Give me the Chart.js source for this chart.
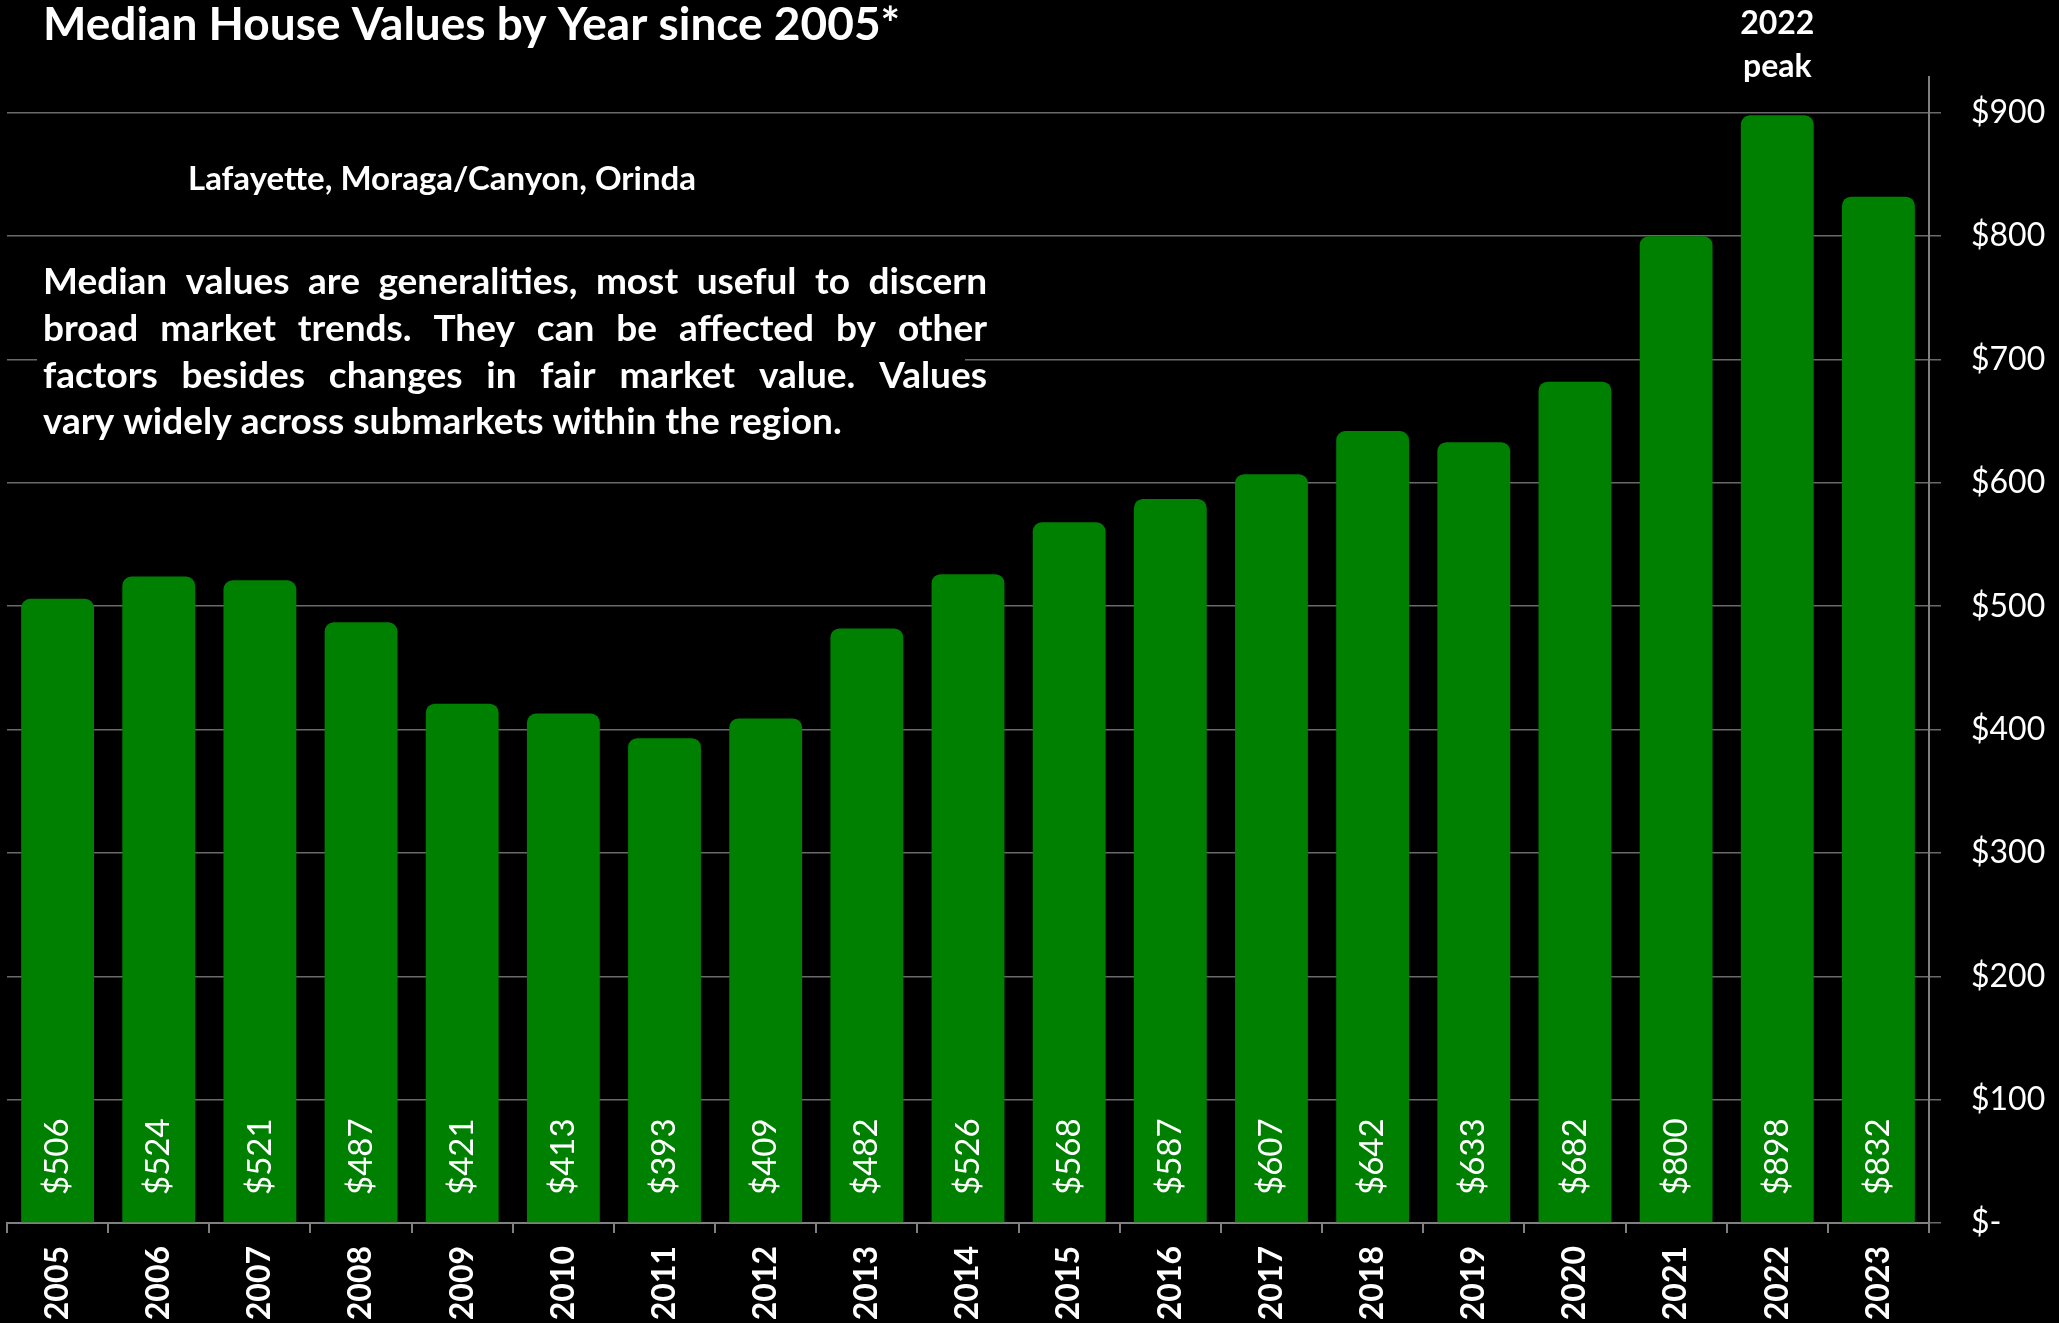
<!DOCTYPE html>
<html>
<head>
<meta charset="utf-8">
<script src="https://cdn.jsdelivr.net/npm/chart.js@4.4.1/dist/chart.umd.min.js"></script>
<style>
  html, body { margin: 0; padding: 0; background: #000; }
  canvas { display: block; }
</style>
</head>
<body>
<canvas id="chart__values" width="2059" height="1323"></canvas>
<script>
const years = ['2005', '2006', '2007', '2008', '2009', '2010', '2011', '2012', '2013', '2014',
    '2015', '2016', '2017', '2018', '2019', '2020', '2021', '2022', '2023'];
const medianValues = [506, 524, 521, 487, 421, 413, 393, 409, 482, 526,
    568, 587, 607, 642, 633, 682, 800, 898, 832];
const yTickValues = [0, 100, 200, 300, 400, 500, 600, 700, 800, 900];
const yTickLabels = ['$-', '$100', '$200', '$300', '$400', '$500', '$600', '$700', '$800', '$900'];

const titleText = 'Median House Values by Year since 2005*';
const areaText = 'Lafayette, Moraga/Canyon, Orinda';
const noteLines = [
    'Median values are generalities, most useful to discern',
    'broad market trends. They can be affected by other',
    'factors besides changes in fair market value. Values',
    'vary widely across submarkets within the region.'
];

const FONT = 'Lato, "Open Sans", sans-serif';
const GREY = '#808080';

// spread words across the full line width (squeeze if too long)
function justifyLine(ctx, text, x, y, width) {
    const words = text.split(' ');
    const wordsWidth = words.reduce((s, w) => s + ctx.measureText(w).width, 0);
    const minGap = ctx.measureText(' ').width * 0.6;
    let gap = (width - wordsWidth) / (words.length - 1);
    let sx = 1;
    if (gap < minGap) {
        sx = width / (wordsWidth + minGap * (words.length - 1));
        gap = minGap;
    }
    ctx.save();
    ctx.translate(x, y);
    ctx.scale(sx, 1);
    let cx = 0;
    words.forEach(w => {
        ctx.fillText(w, cx, 0);
        cx += ctx.measureText(w).width + gap;
    });
    ctx.restore();
}

const textPlugin = {
    id: 'textPlugin',
    afterDatasetsDraw(chart) {
        const ctx = chart.ctx;
        const meta = chart.getDatasetMeta(0);
        const bottom = chart.scales.y.getPixelForValue(0);

        // value labels inside the bars
        ctx.save();
        ctx.fillStyle = '#fff';
        ctx.font = 'normal 33px ' + FONT;
        ctx.textAlign = 'left';
        ctx.textBaseline = 'middle';
        meta.data.forEach((bar, i) => {
            ctx.save();
            ctx.translate(bar.x, bottom - 28);
            ctx.rotate(-Math.PI / 2);
            ctx.fillText('$' + medianValues[i], 0, 0);
            ctx.restore();
        });
        ctx.restore();
    },
    afterDraw(chart) {
        const ctx = chart.ctx;
        ctx.save();
        ctx.fillStyle = '#fff';
        ctx.textAlign = 'left';
        ctx.textBaseline = 'alphabetic';

        ctx.font = 'bold 46px ' + FONT;
        ctx.fillText(titleText, 43, 40);

        ctx.font = 'bold 33px ' + FONT;
        ctx.fillText(areaText, 188, 190);

        // note box sits over the gridlines
        ctx.fillStyle = '#000';
        ctx.fillRect(37, 258, 928, 190);
        ctx.fillStyle = '#fff';
        ctx.font = 'bold 37px ' + FONT;
        const baselines = [294, 341, 388, 434];
        noteLines.forEach((line, i) => {
            if (i < noteLines.length - 1) {
                justifyLine(ctx, line, 43, baselines[i], 944);
            } else {
                ctx.fillText(line, 43, baselines[i]);
            }
        });

        // peak annotation above the highest bar
        const peakIdx = medianValues.indexOf(Math.max(...medianValues));
        const peakBar = chart.getDatasetMeta(0).data[peakIdx];
        ctx.textAlign = 'center';
        ctx.font = 'bold 32px ' + FONT;
        ctx.fillText(years[peakIdx], peakBar.x, 34);
        ctx.fillText('peak', peakBar.x, 77);
        ctx.restore();
    }
};

new Chart(document.getElementById('chart__values'), {
    type: 'bar',
    data: {
        labels: years,
        datasets: [{
            data: medianValues,
            backgroundColor: '#008000',
            borderRadius: { topLeft: 9, topRight: 9, bottomLeft: 0, bottomRight: 0 },
            borderSkipped: 'start',
            barPercentage: 0.72,
            categoryPercentage: 1
        }]
    },
    options: {
        responsive: false,
        animation: false,
        devicePixelRatio: 1,
        layout: { padding: { left: 7, top: 77, right: 0, bottom: 0 } },
        plugins: {
            legend: { display: false },
            tooltip: { enabled: false }
        },
        scales: {
            x: {
                grid: {
                    display: true,
                    drawOnChartArea: false,
                    drawTicks: true,
                    tickLength: 10,
                    color: GREY,
                    lineWidth: 2,
                    offset: true
                },
                border: { color: GREY, width: 2 },
                ticks: {
                    color: '#fff',
                    font: { family: FONT, size: 32, weight: 'bold' },
                    minRotation: 90,
                    maxRotation: 90,
                    autoSkip: false,
                    padding: 13
                },
                afterFit(scale) { scale.height = 100; }
            },
            y: {
                position: 'right',
                min: 0,
                max: 929,
                grid: {
                    color: '#6a6a6a',
                    lineWidth: 1.5,
                    drawTicks: true,
                    tickLength: 12
                },
                border: { color: GREY, width: 2 },
                ticks: {
                    color: '#fff',
                    font: { family: FONT, size: 32, weight: 'normal' },
                    padding: 30,
                    callback: (v, i) => yTickLabels[i]
                },
                afterBuildTicks(scale) {
                    scale.ticks = yTickValues.map(v => ({ value: v }));
                },
                afterFit(scale) { scale.width = 130; }
            }
        }
    },
    plugins: [textPlugin]
});
</script>
</body>
</html>
